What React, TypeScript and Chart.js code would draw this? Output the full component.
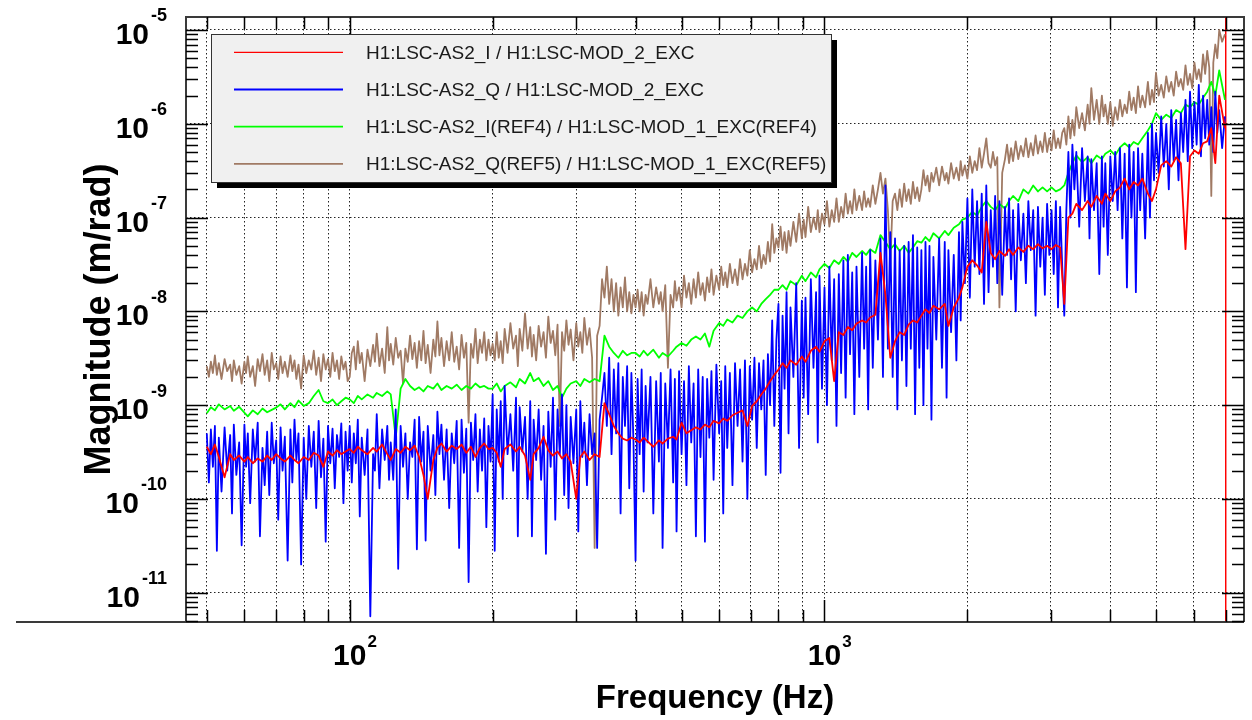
import React, { useEffect, useRef } from 'react';
import { Chart, registerables } from 'chart.js';

Chart.register(...registerables);

const FONT = '"Liberation Sans", Arial, Helvetica, sans-serif';

// ---------- data ----------
// sweep frequencies (Hz) used by the two smoother traces
const freqHz = [
  50, 51, 52, 53, 54.5, 56, 57, 58.5, 60, 61, 62.5, 64, 65.5, 67, 68.5, 70, 71.5, 73, 75, 76.5, 78, 80, 82, 84, 86, 88, 90, 92, 94, 96, 98,
  100, 102, 104, 106, 109, 112, 114, 117, 120, 122, 125, 128, 131, 134, 137, 140, 143, 146, 150, 153, 156, 160, 164, 168, 172, 176, 180, 184, 188, 192, 196,
  200, 204, 208, 212, 218, 224, 228, 234, 240, 244, 250, 256, 262, 268, 274, 280, 286, 292, 300, 306, 312, 320, 328, 336, 344, 352, 360, 368, 376, 384, 392,
  400, 408, 416, 424, 436, 448, 456, 468, 480, 488, 500, 512, 524, 536, 548, 560, 572, 584, 600, 612, 624, 640, 656, 672, 688, 704, 720, 736, 752, 768, 784,
  800, 816, 832, 848, 872, 896, 912, 936, 960, 976, 1000, 1024, 1048, 1072, 1096, 1120, 1144, 1168, 1200, 1224, 1248, 1280, 1312, 1344, 1376, 1408, 1440, 1472, 1504, 1536, 1568,
  1600, 1632, 1664, 1696, 1744, 1792, 1824, 1872, 1920, 1952, 2000, 2048, 2096, 2144, 2192, 2240, 2288, 2336, 2400, 2448, 2496, 2560, 2624, 2688, 2752, 2816, 2880, 2944, 3008, 3072, 3136,
  3200, 3264, 3328, 3392, 3488, 3584, 3648, 3744, 3840, 3904, 4000, 4096, 4192, 4288, 4384, 4480, 4576, 4672, 4800, 4896, 4992, 5120, 5248, 5376, 5504, 5632, 5760, 5888, 6016, 6144, 6272,
  6400, 6528, 6656, 6784, 6976,
];

// finer sweep frequencies (Hz) used by the two noisy traces
const freqFineHz = [
  50, 50.5, 51, 51.5, 52, 52.5, 53, 53.7, 54.5, 55.2, 56, 56.5, 57, 57.7, 58.5, 59.2, 60, 60.5, 61, 61.7, 62.5, 63.2, 64, 64.7, 65.5, 66.2, 67, 67.7, 68.5, 69.2, 70, 70.7, 71.5, 72.2, 73, 74, 75, 75.7, 76.5, 77.2, 78, 79, 80, 81, 82, 83, 84, 85, 86, 87, 88, 89, 90, 91, 92, 93, 94, 95, 96, 97, 98, 99,
  100, 101, 102, 103, 104, 105, 106, 107.5, 109, 110.5, 112, 113, 114, 115.5, 117, 118.5, 120, 121, 122, 123.5, 125, 126.5, 128, 129.5, 131, 132.5, 134, 135.5, 137, 138.5, 140, 141.5, 143, 144.5, 146, 148, 150, 151.5, 153, 154.5, 156, 158, 160, 162, 164, 166, 168, 170, 172, 174, 176, 178, 180, 182, 184, 186, 188, 190, 192, 194, 196, 198,
  200, 202, 204, 206, 208, 210, 212, 215, 218, 221, 224, 226, 228, 231, 234, 237, 240, 242, 244, 247, 250, 253, 256, 259, 262, 265, 268, 271, 274, 277, 280, 283, 286, 289, 292, 296, 300, 303, 306, 309, 312, 316, 320, 324, 328, 332, 336, 340, 344, 348, 352, 356, 360, 364, 368, 372, 376, 380, 384, 388, 392, 396,
  400, 404, 408, 412, 416, 420, 424, 430, 436, 442, 448, 452, 456, 462, 468, 474, 480, 484, 488, 494, 500, 506, 512, 518, 524, 530, 536, 542, 548, 554, 560, 566, 572, 578, 584, 592, 600, 606, 612, 618, 624, 632, 640, 648, 656, 664, 672, 680, 688, 696, 704, 712, 720, 728, 736, 744, 752, 760, 768, 776, 784, 792,
  800, 808, 816, 824, 832, 840, 848, 860, 872, 884, 896, 904, 912, 924, 936, 948, 960, 968, 976, 988, 1000, 1012, 1024, 1036, 1048, 1060, 1072, 1084, 1096, 1108, 1120, 1132, 1144, 1156, 1168, 1184, 1200, 1212, 1224, 1236, 1248, 1264, 1280, 1296, 1312, 1328, 1344, 1360, 1376, 1392, 1408, 1424, 1440, 1456, 1472, 1488, 1504, 1520, 1536, 1552, 1568, 1584,
  1600, 1616, 1632, 1648, 1664, 1680, 1696, 1720, 1744, 1768, 1792, 1808, 1824, 1848, 1872, 1896, 1920, 1936, 1952, 1976, 2000, 2024, 2048, 2072, 2096, 2120, 2144, 2168, 2192, 2216, 2240, 2264, 2288, 2312, 2336, 2368, 2400, 2424, 2448, 2472, 2496, 2528, 2560, 2592, 2624, 2656, 2688, 2720, 2752, 2784, 2816, 2848, 2880, 2912, 2944, 2976, 3008, 3040, 3072, 3104, 3136, 3168,
  3200, 3232, 3264, 3296, 3328, 3360, 3392, 3440, 3488, 3536, 3584, 3616, 3648, 3696, 3744, 3792, 3840, 3872, 3904, 3952, 4000, 4048, 4096, 4144, 4192, 4240, 4288, 4336, 4384, 4432, 4480, 4528, 4576, 4624, 4672, 4736, 4800, 4848, 4896, 4944, 4992, 5056, 5120, 5184, 5248, 5312, 5376, 5440, 5504, 5568, 5632, 5696, 5760, 5824, 5888, 5952, 6016, 6080, 6144, 6208, 6272, 6336,
  6400, 6464, 6528, 6592, 6656, 6720, 6784, 6880, 6976,
];

const redValues = [
  3.6e-10, 3.0e-10, 3.8e-10, 2.8e-10, 1.7e-10, 3.0e-10, 2.6e-10, 2.9e-10, 2.5e-10, 2.8e-10, 2.4e-10, 2.7e-10, 2.5e-10, 2.9e-10, 2.6e-10, 3.0e-10, 2.7e-10, 2.5e-10, 2.9e-10, 2.6e-10, 2.4e-10, 2.8e-10, 2.6e-10, 3.1e-10, 2.9e-10, 2.2e-10, 3.2e-10, 2.9e-10, 3.3e-10, 3.0e-10, 3.2e-10,
  3.4e-10, 3.1e-10, 3.6e-10, 3.3e-10, 3.0e-10, 3.5e-10, 3.2e-10, 3.8e-10, 3.0e-10, 2.6e-10, 3.4e-10, 3.1e-10, 3.6e-10, 3.3e-10, 3.7e-10, 2.8e-10, 1.8e-10, 1.0e-10, 2.6e-10, 3.5e-10, 3.9e-10, 3.2e-10, 3.7e-10, 3.4e-10, 3.8e-10, 3.1e-10, 3.6e-10, 2.8e-10, 3.5e-10, 3.9e-10, 3.4e-10,
  3.5e-10, 3.1e-10, 2.2e-10, 3.4e-10, 3.8e-10, 3.2e-10, 3.6e-10, 2.9e-10, 1.6e-10, 3.0e-10, 3.5e-10, 4.6e-10, 3.3e-10, 2.9e-10, 3.2e-10, 2.7e-10, 3.0e-10, 2.5e-10, 1.0e-10, 2.8e-10, 3.2e-10, 2.6e-10, 3.0e-10, 2.8e-10, 1.05e-9, 8.0e-10, 6.0e-10, 5.0e-10, 4.4e-10, 4.2e-10, 4.5e-10,
  4.3e-10, 4.0e-10, 4.5e-10, 4.1e-10, 3.6e-10, 4.2e-10, 3.9e-10, 4.4e-10, 4.6e-10, 4.3e-10, 6.5e-10, 5.0e-10, 5.4e-10, 5.8e-10, 5.5e-10, 6.2e-10, 5.8e-10, 6.8e-10, 6.4e-10, 7.2e-10, 6.8e-10, 7.8e-10, 8.3e-10, 8.8e-10, 6.0e-10, 9.8e-10, 1.1e-9, 1.3e-9, 1.5e-9, 1.8e-9, 2.1e-9,
  2.4e-9, 2.8e-9, 2.5e-9, 3.0e-9, 2.7e-9, 3.3e-9, 2.9e-9, 3.8e-9, 4.2e-9, 3.7e-9, 4.8e-9, 5.2e-9, 1.8e-9, 6.0e-9, 5.6e-9, 6.8e-9, 6.3e-9, 7.4e-9, 8.0e-9, 7.6e-9, 8.6e-9, 9.2e-9, 4.2e-8, 1.5e-8, 3.2e-9, 4.8e-9, 6.0e-9, 5.6e-9, 7.2e-9, 8.0e-9, 7.6e-9,
  9.0e-9, 1.05e-8, 9.6e-9, 1.15e-8, 1.05e-8, 1.2e-8, 7.0e-9, 1.1e-8, 1.4e-8, 1.8e-8, 3.0e-8, 3.5e-8, 3.1e-8, 2.6e-8, 9.0e-8, 4.2e-8, 3.6e-8, 4.4e-8, 3.9e-8, 4.6e-8, 4.0e-8, 4.8e-8, 4.3e-8, 5.0e-8, 4.6e-8, 5.2e-8, 4.7e-8, 5.0e-8, 4.6e-8, 5.1e-8, 4.8e-8,
  1.2e-8, 1.0e-7, 1.1e-7, 1.4e-7, 1.2e-7, 1.5e-7, 1.3e-7, 1.7e-7, 1.4e-7, 1.8e-7, 1.5e-7, 1.9e-7, 2.1e-7, 2.6e-7, 2.0e-7, 2.4e-7, 2.2e-7, 2.6e-7, 1.8e-7, 1.5e-7, 2.0e-7, 3.6e-7, 4.0e-7, 3.5e-7, 4.4e-7, 3.8e-7, 4.6e-8, 4.5e-7, 5.2e-7, 4.8e-7, 6.2e-7,
  6.5e-7, 9.0e-7, 3.8e-7, 2.0e-6, 9.0e-7,
];

const greenValues = [
  8.2e-10, 9.5e-10, 8.8e-10, 1.02e-9, 9.0e-10, 9.8e-10, 8.7e-10, 9.6e-10, 8.3e-10, 7.6e-10, 8.8e-10, 8.0e-10, 9.2e-10, 8.4e-10, 8.9e-10, 9.4e-10, 1.02e-9, 9.0e-10, 1.05e-9, 9.5e-10, 1.12e-9, 9.8e-10, 1.05e-9, 1.25e-9, 1.45e-9, 1.1e-9, 1.05e-9, 1.15e-9, 1.0e-9, 1.1e-9, 1.2e-9,
  1.15e-9, 1.05e-9, 1.25e-9, 1.15e-9, 1.3e-9, 1.2e-9, 1.35e-9, 1.25e-9, 1.4e-9, 1.3e-9, 4.5e-10, 1.5e-9, 1.9e-9, 1.6e-9, 1.45e-9, 1.55e-9, 1.4e-9, 1.6e-9, 1.5e-9, 1.7e-9, 1.45e-9, 1.6e-9, 1.5e-9, 1.65e-9, 1.45e-9, 1.6e-9, 1.5e-9, 1.7e-9, 1.55e-9, 1.6e-9, 1.5e-9,
  1.5e-9, 1.7e-9, 1.4e-9, 1.6e-9, 1.75e-9, 1.55e-9, 1.9e-9, 1.7e-9, 2.2e-9, 1.8e-9, 1.95e-9, 1.6e-9, 1.8e-9, 1.45e-9, 1.6e-9, 1.2e-9, 1.5e-9, 1.7e-9, 1.8e-9, 1.6e-9, 1.9e-9, 1.75e-9, 1.9e-9, 1.8e-9, 5.5e-9, 4.2e-9, 3.6e-9, 3.2e-9, 3.8e-9, 3.4e-9, 3.6e-9,
  3.6e-9, 3.3e-9, 3.8e-9, 3.4e-9, 3.9e-9, 3.2e-9, 3.6e-9, 3.3e-9, 3.8e-9, 4.2e-9, 4.6e-9, 4.3e-9, 5.0e-9, 5.4e-9, 5.0e-9, 5.8e-9, 4.2e-9, 6.2e-9, 7.5e-9, 7.0e-9, 8.2e-9, 7.6e-9, 9.0e-9, 8.5e-9, 1.0e-8, 1.1e-8, 1.0e-8, 1.2e-8, 1.35e-8, 1.5e-8, 1.7e-8,
  1.7e-8, 1.9e-8, 1.7e-8, 2.1e-8, 1.9e-8, 2.4e-8, 2.1e-8, 2.6e-8, 2.3e-8, 2.8e-8, 3.2e-8, 2.9e-8, 3.5e-8, 3.2e-8, 3.8e-8, 3.4e-8, 4.2e-8, 3.8e-8, 4.4e-8, 4.0e-8, 4.6e-8, 4.2e-8, 6.5e-8, 5.5e-8, 4.6e-8, 5.2e-8, 4.4e-8, 5.0e-8, 4.2e-8, 4.8e-8, 5.6e-8,
  5.4e-8, 6.2e-8, 5.6e-8, 6.8e-8, 6.0e-8, 7.2e-8, 6.5e-8, 7.8e-8, 8.5e-8, 9.5e-8, 1.0e-7, 1.15e-7, 1.05e-7, 1.3e-7, 1.5e-7, 1.3e-7, 1.2e-7, 1.4e-7, 1.25e-7, 1.5e-7, 1.7e-7, 1.5e-7, 2.0e-7, 1.8e-7, 2.2e-7, 1.9e-7, 2.1e-7, 1.9e-7, 2.1e-7, 1.9e-7, 2.0e-7,
  2.2e-7, 3.0e-7, 3.8e-7, 4.6e-7, 3.9e-7, 4.4e-7, 3.8e-7, 4.6e-7, 4.2e-7, 4.8e-7, 5.2e-7, 4.6e-7, 5.6e-7, 6.2e-7, 5.6e-7, 6.4e-7, 6.0e-7, 7.0e-7, 8.5e-7, 1.0e-6, 1.3e-6, 1.1e-6, 1.25e-6, 1.15e-6, 1.4e-6, 1.3e-6, 1.6e-6, 1.5e-6, 1.7e-6, 1.6e-6, 1.9e-6,
  2.2e-6, 2.8e-6, 2.0e-6, 3.7e-6, 1.8e-6,
];

const blueValues = [
  5.0e-10, 1.5e-10, 5.5e-10, 2.2e-10, 6.0e-10, 2.8e-11, 4.5e-10, 1.2e-10, 5.8e-10, 2.0e-10, 4.8e-10, 7.0e-11, 6.2e-10, 1.8e-10, 4.0e-10, 3.2e-11, 6.2e-10, 2.2e-10, 5.0e-10, 9.0e-11, 5.5e-10, 2.5e-10, 6.5e-10, 4.0e-11, 3.5e-10, 1.4e-10, 5.2e-10, 1.1e-10, 6.5e-10, 2.4e-10, 4.2e-10, 6.0e-11, 5.8e-10, 2.0e-10, 4.6e-10, 2.2e-11, 5.5e-10, 1.5e-10, 7.0e-10, 2.6e-10, 5.0e-10, 2.0e-11, 4.5e-10, 1.0e-10, 6.0e-10, 2.2e-10, 5.2e-10, 8.0e-11, 6.8e-10, 1.7e-10, 4.4e-10, 3.5e-11, 6.0e-10, 2.4e-10, 5.6e-10, 1.3e-10, 4.8e-10, 2.8e-10, 6.4e-10, 9.0e-11, 5.2e-10, 2.0e-10,
  6.0e-10, 1.5e-10, 5.0e-10, 2.4e-10, 7.0e-10, 6.5e-11, 4.5e-10, 1.8e-10, 5.5e-10, 5.6e-12, 3.0e-10, 2.0e-10, 8.0e-10, 1.3e-10, 5.5e-10, 2.6e-10, 6.0e-10, 1.6e-10, 4.0e-10, 1.6e-10, 9.0e-10, 1.8e-11, 6.0e-10, 2.2e-10, 5.0e-10, 1.0e-10, 4.0e-10, 2.8e-10, 7.0e-10, 2.9e-11, 7.5e-10, 2.5e-10, 5.2e-10, 3.6e-11, 6.0e-10, 2.0e-10, 4.8e-10, 1.1e-10, 8.5e-10, 3.0e-10, 6.2e-10, 1.6e-10, 5.5e-10, 8.0e-11, 5.0e-10, 2.4e-10, 6.8e-10, 3.0e-11, 7.0e-10, 1.9e-10, 5.6e-10, 1.3e-11, 6.5e-10, 2.6e-10, 8.0e-10, 1.2e-10, 5.5e-10, 2.0e-10, 7.2e-10, 5.0e-11, 6.0e-10, 2.5e-10,
  1.3e-9, 2.8e-11, 9.0e-10, 2.5e-10, 1.1e-9, 1.0e-10, 1.6e-9, 3.0e-10, 8.0e-10, 2.0e-10, 1.2e-9, 4.0e-11, 9.5e-10, 3.2e-10, 7.5e-10, 1.0e-10, 1.1e-9, 4.0e-11, 7.0e-10, 2.6e-10, 9.0e-10, 1.6e-10, 6.0e-10, 2.6e-11, 8.5e-10, 2.2e-10, 1.2e-9, 6.0e-11, 9.0e-10, 3.0e-10, 1.3e-9, 1.1e-10, 1.0e-9, 8.0e-11, 7.5e-10, 2.4e-10, 9.0e-10, 4.5e-11, 1.1e-9, 2.8e-10, 6.5e-10, 1.4e-10, 8.0e-10, 3.0e-10, 5.0e-10, 3.0e-11, 7.0e-10, 1.2e-9, 2.2e-9, 6.0e-10, 3.2e-9, 3.0e-10, 2.4e-9, 5.0e-10, 2.8e-9, 7.0e-11, 2.0e-9, 6.0e-10, 2.6e-9, 1.3e-10, 2.2e-9, 4.0e-10,
  2.2e-11, 1.9e-9, 3.0e-10, 2.4e-9, 1.2e-10, 1.6e-9, 4.0e-10, 2.0e-9, 7.0e-11, 1.8e-9, 2.5e-10, 2.2e-9, 3.0e-11, 1.7e-9, 3.5e-10, 2.4e-9, 1.5e-10, 1.9e-9, 4.5e-11, 2.3e-9, 3.0e-10, 1.8e-9, 1.4e-10, 2.6e-9, 4.0e-10, 1.7e-9, 4.0e-11, 2.4e-9, 2.8e-10, 2.0e-9, 3.5e-11, 1.9e-9, 4.5e-10, 2.3e-9, 1.6e-10, 2.7e-9, 5.0e-10, 1.8e-9, 7.0e-11, 2.6e-9, 3.5e-10, 2.2e-9, 1.4e-10, 2.8e-9, 6.0e-10, 2.4e-9, 2.5e-10, 3.0e-9, 1.0e-10, 2.6e-9, 7.0e-10, 3.2e-9, 3.5e-10, 2.8e-9, 9.0e-10, 3.0e-9, 1.8e-10, 3.5e-9, 1.0e-9, 8.0e-9, 6.0e-10, 5.0e-9,
  1.2e-8, 1.9e-10, 9.0e-9, 1.5e-9, 1.6e-8, 5.0e-10, 1.1e-8, 2.0e-9, 2.0e-8, 3.5e-10, 1.3e-8, 1.2e-9, 1.4e-8, 8.0e-10, 2.2e-8, 2.5e-9, 1.6e-8, 4.0e-10, 2.4e-8, 1.5e-9, 1.8e-8, 1.0e-9, 3.0e-8, 3.0e-9, 2.2e-8, 6.0e-10, 2.5e-8, 2.2e-9, 3.5e-8, 1.2e-9, 4.0e-8, 3.5e-9, 2.6e-8, 8.0e-10, 3.0e-8, 2.0e-9, 4.2e-8, 4.0e-9, 3.0e-8, 9.0e-10, 4.5e-8, 2.5e-9, 3.5e-8, 5.0e-9, 6.0e-8, 2.0e-9, 2.2e-7, 4.0e-9, 7.0e-8, 2.0e-9, 6.0e-8, 9.0e-10, 4.5e-8, 3.0e-9, 5.0e-8, 1.6e-9, 5.5e-8, 4.0e-9, 6.5e-8, 8.0e-10, 4.8e-8, 2.5e-9,
  4.5e-8, 1.0e-9, 5.5e-8, 4.0e-9, 5.0e-8, 7.0e-10, 3.8e-8, 5.0e-9, 6.0e-8, 2.5e-9, 5.5e-8, 1.2e-9, 4.5e-8, 6.0e-9, 4.0e-8, 3.0e-9, 7.0e-8, 8.0e-9, 9.0e-8, 2.0e-8, 1.6e-7, 1.4e-8, 2.0e-7, 3.0e-8, 1.5e-7, 2.5e-8, 1.8e-7, 1.2e-8, 2.2e-7, 1.6e-8, 1.2e-7, 3.0e-8, 1.7e-7, 2.0e-8, 1.5e-7, 1.5e-8, 1.3e-7, 4.0e-8, 1.6e-7, 2.2e-8, 1.2e-7, 1.0e-8, 1.4e-7, 3.5e-8, 1.1e-7, 2.0e-8, 1.5e-7, 4.5e-8, 1.2e-7, 9.0e-9, 1.3e-7, 3.0e-8, 1.0e-7, 1.5e-8, 1.4e-7, 4.0e-8, 1.2e-7, 2.5e-8, 1.5e-7, 1.1e-8, 1.3e-7, 3.0e-8,
  9.0e-9, 1.2e-7, 5.0e-7, 1.0e-7, 6.0e-7, 2.0e-7, 5.0e-7, 8.0e-8, 5.5e-7, 1.5e-7, 4.5e-7, 6.0e-8, 4.2e-7, 1.2e-7, 3.8e-7, 2.5e-8, 4.5e-7, 8.0e-8, 3.8e-7, 4.0e-8, 4.5e-7, 1.5e-7, 5.0e-7, 1.2e-7, 5.5e-7, 6.0e-8, 4.8e-7, 1.8e-8, 6.0e-7, 1.0e-7, 5.0e-7, 1.6e-8, 5.5e-7, 1.2e-7, 4.8e-7, 6.0e-8, 8.0e-7, 1.0e-7, 1.0e-6, 2.5e-7, 8.0e-7, 3.0e-7, 1.2e-6, 3.5e-7, 1.0e-6, 2.0e-7, 1.4e-6, 4.0e-7, 1.1e-6, 2.5e-7, 1.3e-6, 5.0e-7, 1.8e-6, 4.0e-7, 2.2e-6, 5.5e-7, 1.7e-6, 6.0e-7, 2.6e-6, 4.5e-7, 2.0e-6, 7.0e-7,
  1.8e-6, 6.0e-7, 1.5e-6, 5.0e-7, 2.2e-6, 8.0e-7, 1.4e-6, 5.5e-7, 1.2e-6,
];

const brownValues = [
  2.6e-9, 2.0e-9, 2.9e-9, 2.2e-9, 3.4e-9, 2.1e-9, 2.8e-9, 1.9e-9, 3.1e-9, 2.3e-9, 2.7e-9, 1.8e-9, 3.0e-9, 2.1e-9, 2.6e-9, 1.7e-9, 2.9e-9, 2.2e-9, 3.3e-9, 2.0e-9, 2.6e-9, 1.6e-9, 3.1e-9, 2.3e-9, 3.5e-9, 2.1e-9, 3.0e-9, 1.8e-9, 3.6e-9, 2.4e-9, 2.8e-9, 1.9e-9, 3.3e-9, 2.2e-9, 2.9e-9, 2.0e-9, 3.4e-9, 2.3e-9, 3.0e-9, 1.9e-9, 2.7e-9, 1.5e-9, 3.4e-9, 2.2e-9, 3.0e-9, 2.4e-9, 3.8e-9, 2.1e-9, 3.2e-9, 1.8e-9, 3.5e-9, 2.4e-9, 3.1e-9, 2.0e-9, 3.6e-9, 2.3e-9, 3.0e-9, 1.9e-9, 3.3e-9, 2.4e-9, 2.9e-9, 1.8e-9,
  2.0e-9, 3.6e-9, 4.2e-9, 2.4e-9, 4.8e-9, 2.8e-9, 3.6e-9, 1.8e-9, 3.9e-9, 2.6e-9, 4.4e-9, 2.9e-9, 5.8e-9, 2.6e-9, 4.0e-9, 2.2e-9, 6.8e-9, 3.0e-9, 4.5e-9, 2.7e-9, 5.2e-9, 3.2e-9, 3.8e-9, 1.7e-9, 4.0e-9, 2.9e-9, 5.5e-9, 3.1e-9, 4.6e-9, 2.5e-9, 4.8e-9, 3.0e-9, 6.2e-9, 2.8e-9, 4.4e-9, 2.2e-9, 5.0e-9, 3.3e-9, 7.8e-9, 3.4e-9, 5.2e-9, 2.6e-9, 4.8e-9, 3.0e-9, 6.0e-9, 2.9e-9, 4.2e-9, 2.4e-9, 5.6e-9, 3.2e-9, 4.6e-9, 6.5e-10, 4.5e-9, 3.2e-9, 6.5e-9, 2.8e-9, 5.0e-9, 3.6e-9, 6.0e-9, 3.0e-9, 5.0e-9, 3.4e-9,
  4.5e-9, 3.0e-9, 6.0e-9, 3.2e-9, 4.8e-9, 2.8e-9, 6.5e-9, 3.6e-9, 7.5e-9, 4.0e-9, 5.5e-9, 2.6e-9, 6.5e-9, 3.8e-9, 9.5e-9, 4.0e-9, 6.8e-9, 3.3e-9, 5.6e-9, 3.0e-9, 7.0e-9, 4.2e-9, 6.0e-9, 3.2e-9, 8.8e-9, 4.6e-9, 6.2e-9, 3.4e-9, 7.2e-9, 6.0e-10, 6.0e-9, 3.8e-9, 8.0e-9, 4.4e-9, 6.4e-9, 3.0e-9, 7.5e-9, 4.2e-9, 6.0e-9, 3.6e-9, 8.5e-9, 4.4e-9, 6.6e-9, 3.2e-9, 3.0e-11, 5.5e-9, 7.0e-9, 2.2e-8, 1.4e-8, 3.0e-8, 1.2e-8, 2.2e-8, 1.0e-8, 2.0e-8, 9.0e-9, 1.8e-8, 1.1e-8, 2.3e-8, 1.0e-8, 1.6e-8, 9.5e-9, 1.5e-8,
  1.1e-8, 1.7e-8, 1.0e-8, 1.6e-8, 9.0e-9, 1.5e-8, 1.2e-8, 2.2e-8, 1.1e-8, 1.8e-8, 1.2e-8, 1.6e-8, 1.0e-8, 1.9e-8, 2.5e-9, 1.5e-8, 1.1e-8, 2.1e-8, 1.3e-8, 1.8e-8, 1.1e-8, 2.4e-8, 1.4e-8, 2.0e-8, 1.2e-8, 2.2e-8, 1.4e-8, 2.6e-8, 1.5e-8, 2.0e-8, 1.3e-8, 2.3e-8, 1.6e-8, 2.8e-8, 1.5e-8, 2.4e-8, 1.7e-8, 3.0e-8, 1.9e-8, 2.6e-8, 1.8e-8, 3.2e-8, 2.0e-8, 2.8e-8, 1.9e-8, 3.6e-8, 2.2e-8, 3.2e-8, 2.4e-8, 4.5e-8, 2.6e-8, 3.6e-8, 2.8e-8, 5.0e-8, 2.9e-8, 4.0e-8, 3.2e-8, 5.5e-8, 3.4e-8, 8.5e-8, 4.2e-8, 6.0e-8,
  4.8e-8, 8.0e-8, 4.5e-8, 7.0e-8, 4.2e-8, 7.2e-8, 5.0e-8, 9.0e-8, 5.5e-8, 1.1e-7, 6.0e-8, 9.5e-8, 6.2e-8, 1.3e-7, 7.0e-8, 1.0e-7, 7.5e-8, 1.2e-7, 7.0e-8, 1.1e-7, 8.5e-8, 1.5e-7, 8.0e-8, 1.2e-7, 9.0e-8, 1.6e-7, 9.0e-8, 1.3e-7, 1.0e-7, 1.8e-7, 1.1e-7, 1.5e-7, 1.1e-7, 2.0e-7, 1.2e-7, 1.7e-7, 1.2e-7, 1.9e-7, 1.3e-7, 1.6e-7, 1.3e-7, 2.2e-7, 1.4e-7, 2.0e-7, 3.0e-7, 1.8e-7, 2.6e-7, 1.2e-7, 3.2e-8, 1.5e-7, 1.8e-7, 1.2e-7, 2.0e-7, 1.3e-7, 2.3e-7, 1.5e-7, 2.0e-7, 1.4e-7, 2.4e-7, 1.6e-7, 2.1e-7, 1.5e-7,
  2.0e-7, 3.2e-7, 2.2e-7, 2.8e-7, 1.9e-7, 3.0e-7, 2.4e-7, 3.4e-7, 2.2e-7, 3.5e-7, 2.5e-7, 3.0e-7, 2.3e-7, 3.8e-7, 2.6e-7, 3.4e-7, 2.5e-7, 4.0e-7, 2.8e-7, 3.6e-7, 2.6e-7, 4.5e-7, 3.0e-7, 4.0e-7, 3.2e-7, 5.5e-7, 3.4e-7, 4.8e-7, 7.0e-7, 3.8e-7, 3.4e-7, 5.0e-7, 3.6e-7, 4.4e-7, 1.1e-8, 3.0e-7, 4.2e-7, 6.0e-7, 3.8e-7, 5.5e-7, 4.0e-7, 6.5e-7, 4.2e-7, 5.8e-7, 4.5e-7, 7.0e-7, 4.4e-7, 6.2e-7, 4.6e-7, 7.5e-7, 4.8e-7, 6.5e-7, 5.0e-7, 8.0e-7, 5.0e-7, 7.0e-7, 5.2e-7, 8.5e-7, 5.5e-7, 7.0e-7, 5.5e-7, 8.0e-7,
  9.0e-7, 6.0e-7, 1.2e-6, 7.0e-7, 1.1e-6, 7.5e-7, 1.5e-6, 9.0e-7, 1.3e-6, 8.5e-7, 1.6e-6, 1.0e-6, 2.4e-6, 1.1e-6, 1.8e-6, 1.0e-6, 2.0e-6, 1.2e-6, 1.6e-6, 1.0e-6, 1.7e-6, 9.5e-7, 1.5e-6, 1.1e-6, 1.8e-6, 1.2e-6, 1.6e-6, 1.3e-6, 2.2e-6, 1.4e-6, 1.9e-6, 1.3e-6, 2.5e-6, 1.5e-6, 2.0e-6, 1.5e-6, 2.8e-6, 1.6e-6, 2.3e-6, 1.7e-6, 3.5e-6, 2.0e-6, 2.6e-6, 1.9e-6, 3.2e-6, 2.2e-6, 2.8e-6, 2.0e-6, 3.6e-6, 2.5e-6, 3.0e-6, 2.3e-6, 4.2e-6, 2.6e-6, 3.4e-6, 2.4e-6, 4.5e-6, 3.0e-6, 3.8e-6, 2.8e-6, 5.5e-6, 3.4e-6,
  6.0e-6, 4.0e-6, 1.7e-7, 4.5e-6, 7.0e-6, 5.0e-6, 1.0e-5, 7.5e-6, 9.0e-6,
];

// red marker line at the upper end of the sweep
const edgeFreq = [7000, 7000];
const edgeValues = [1e-3, 5e-12];

const seriesLabels = [
  'H1:LSC-AS2_I / H1:LSC-MOD_2_EXC',
  'H1:LSC-AS2_Q / H1:LSC-MOD_2_EXC',
  'H1:LSC-AS2_I(REF4) / H1:LSC-MOD_1_EXC(REF4)',
  'H1:LSC-AS2_Q(REF5) / H1:LSC-MOD_1_EXC(REF5)',
];
const seriesColors = ['#ff0000', '#0000ff', '#00ff00', '#a07a64'];

// axes
const xMin = 45.2;
const xMax = 7650;
const yMin = 4.87e-12;
const yMax = 1.376e-5;
const xGridValues = [50, 60, 70, 80, 90, 100, 200, 300, 400, 500, 600, 700, 800, 900, 1000, 2000, 3000, 4000, 5000, 6000, 7000];
const xMajorValues = [100, 1000];
const xTickExponents = [2, 3];
const yGridValues = [1e-5, 1e-6, 1e-7, 1e-8, 1e-9, 1e-10, 1e-11];
const yTickExponents = [-5, -6, -7, -8, -9, -10, -11];
const yMinorMultipliers = [2, 3, 4, 5, 6, 7, 8, 9];

function pairs(xs: number[], ys: number[]) {
  const n = Math.min(xs.length, ys.length);
  const out: { x: number; y: number }[] = [];
  for (let i = 0; i < n; i++) out.push({ x: xs[i], y: ys[i] });
  return out;
}

const rootFramePlugin = {
  id: 'rootFrame',
  afterDraw(chart: any) {
    const { ctx, chartArea: a, scales } = chart;
    const xs = scales.x;
    const ys = scales.y;
    ctx.save();

    // frame
    ctx.strokeStyle = '#3a3a3a';
    ctx.lineWidth = 2;
    ctx.beginPath();
    ctx.moveTo(a.left, a.bottom);
    ctx.lineTo(a.left, a.top);
    ctx.lineTo(a.right, a.top);
    ctx.lineTo(a.right, a.bottom);
    ctx.stroke();
    ctx.beginPath();
    ctx.moveTo(16, a.bottom);
    ctx.lineTo(a.right, a.bottom);
    ctx.stroke();

    // ticks
    ctx.strokeStyle = '#000';
    ctx.lineWidth = 1.5;
    ctx.beginPath();
    for (const v of xGridValues) {
      const px = Math.round(xs.getPixelForValue(v)) + 0.5;
      const len = xMajorValues.includes(v) ? 22 : 12;
      ctx.moveTo(px, a.bottom);
      ctx.lineTo(px, a.bottom - len);
      ctx.moveTo(px, a.top);
      ctx.lineTo(px, a.top + len);
    }
    for (const g of yGridValues.concat([1e-12])) {
      for (const m of [1].concat(yMinorMultipliers)) {
        const v = m * g;
        if (v < ys.min || v > ys.max) continue;
        const py = Math.round(ys.getPixelForValue(v)) + 0.5;
        const len = m === 1 ? 22 : 12;
        ctx.moveTo(a.left, py);
        ctx.lineTo(a.left + len, py);
        ctx.moveTo(a.right, py);
        ctx.lineTo(a.right - len, py);
      }
    }
    ctx.stroke();

    // tick labels (10 with superscript exponent)
    ctx.fillStyle = '#000';
    ctx.textBaseline = 'alphabetic';
    yTickExponents.forEach((e, i) => {
      const py = ys.getPixelForValue(yGridValues[i]);
      const exp = String(e);
      ctx.font = `bold 18px ${FONT}`;
      ctx.textAlign = 'right';
      const ew = ctx.measureText(exp).width;
      ctx.fillText(exp, 167, py - 8.5);
      ctx.font = `bold 30px ${FONT}`;
      ctx.fillText('10', 167 - ew - 2, py + 14);
    });
    xTickExponents.forEach((e, i) => {
      const px = xs.getPixelForValue(xMajorValues[i]);
      ctx.font = `bold 30px ${FONT}`;
      ctx.textAlign = 'center';
      const w = ctx.measureText('10').width;
      ctx.fillText('10', px, 665);
      ctx.font = `bold 17px ${FONT}`;
      ctx.textAlign = 'left';
      ctx.fillText(String(e), px + w / 2 + 1, 647);
    });

    // legend box (ROOT style with shadow)
    const L = { x: 211, y: 34, w: 620, h: 148 };
    ctx.fillStyle = '#000';
    ctx.fillRect(L.x + 6, L.y + 6, L.w, L.h);
    ctx.fillStyle = '#f0f0f0';
    ctx.fillRect(L.x, L.y, L.w, L.h);
    ctx.strokeStyle = '#333';
    ctx.lineWidth = 1;
    ctx.strokeRect(L.x + 0.5, L.y + 0.5, L.w, L.h);
    const ds = chart.data.datasets;
    for (let i = 0; i < 4; i++) {
      const ry = L.y + 18.3 + i * 37.2;
      ctx.strokeStyle = ds[i].borderColor;
      ctx.lineWidth = i === 0 ? 1.2 : 1.8;
      ctx.beginPath();
      ctx.moveTo(234, ry);
      ctx.lineTo(343, ry);
      ctx.stroke();
      ctx.fillStyle = '#1a1a1a';
      ctx.font = `19px ${FONT}`;
      ctx.textAlign = 'left';
      ctx.textBaseline = 'middle';
      ctx.fillText(ds[i].label, 366, ry + 1);
    }
    ctx.restore();
  },
};

export default function App() {
  const canvasRef = useRef<HTMLCanvasElement | null>(null);

  useEffect(() => {
    const canvas = canvasRef.current;
    if (!canvas) return;
    const traces = [
      pairs(freqHz, redValues),
      pairs(freqFineHz, blueValues),
      pairs(freqHz, greenValues),
      pairs(freqFineHz, brownValues),
    ];
    const datasets: any[] = traces.map((data, i) => ({
      label: seriesLabels[i],
      data,
      borderColor: seriesColors[i],
      backgroundColor: seriesColors[i],
      borderWidth: 1.8,
      borderJoinStyle: 'round',
      pointRadius: 0,
      tension: 0,
      fill: false,
    }));
    datasets.push({
      label: 'edge',
      data: pairs(edgeFreq, edgeValues),
      borderColor: '#ff0000',
      borderWidth: 1,
      pointRadius: 0,
      fill: false,
    });

    const chart = new Chart(canvas, {
      type: 'line',
      data: { datasets },
      options: {
        animation: false,
        responsive: false,
        maintainAspectRatio: false,
        devicePixelRatio: 1,
        events: [],
        layout: { padding: { left: 82, top: 17, right: 8, bottom: 0 } },
        plugins: { legend: { display: false }, tooltip: { enabled: false }, title: { display: false } },
        scales: {
          x: {
            type: 'logarithmic',
            position: 'bottom',
            min: xMin,
            max: xMax,
            afterBuildTicks: (axis: any) => {
              axis.ticks = xGridValues.map((value) => ({ value }));
            },
            ticks: { display: false },
            grid: { drawTicks: false, color: '#222', lineWidth: 1 },
            border: { display: false, dash: [1.5, 2.5] },
            title: {
              display: true,
              text: 'Frequency (Hz)',
              color: '#000',
              font: { family: FONT, size: 33, weight: 'bold', lineHeight: 1 },
              padding: { top: 60.5, bottom: 4.5 },
            },
          },
          y: {
            type: 'logarithmic',
            position: 'left',
            min: yMin,
            max: yMax,
            afterBuildTicks: (axis: any) => {
              axis.ticks = yGridValues.map((value) => ({ value }));
            },
            ticks: { display: false },
            grid: { drawTicks: false, color: '#222', lineWidth: 1 },
            border: { display: false, dash: [1.5, 2.5] },
            title: {
              display: true,
              text: 'Magnitude (m/rad)',
              color: '#000',
              font: { family: FONT, size: 36, weight: 'bold', lineHeight: 1 },
              padding: { top: 0, bottom: 68 },
            },
          },
        },
      } as any,
      plugins: [rootFramePlugin],
    });
    return () => chart.destroy();
  }, []);

  return (
    <div style={{ position: 'fixed', left: 0, top: 0, width: 1252, height: 720, background: '#fff' }}>
      <canvas ref={canvasRef} width={1252} height={720} style={{ display: 'block' }} />
    </div>
  );
}
